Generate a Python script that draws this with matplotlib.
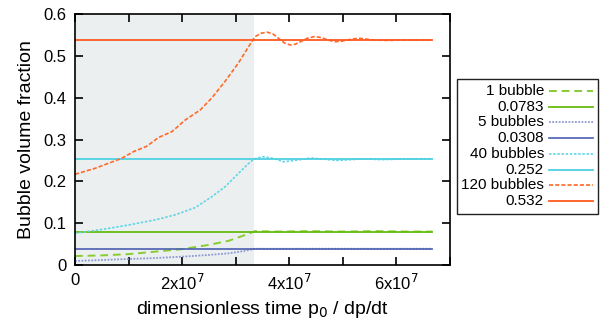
import matplotlib
matplotlib.use("Agg")
import matplotlib.pyplot as plt
from matplotlib.lines import Line2D
from matplotlib.patches import Rectangle
from matplotlib.ticker import MultipleLocator, FuncFormatter

plt.rcParams["font.family"] = ["Liberation Sans", "DejaVu Sans"]

# time axis in units of 1e7
t1 = [0.0, 0.5, 1.0, 1.5, 2.0, 2.49, 2.87, 3.18, 3.36, 3.8, 4.4, 5.0, 5.6, 6.2, 6.67]
v1 = [0.0215, 0.023, 0.026, 0.032, 0.038, 0.048, 0.058, 0.072, 0.081, 0.080, 0.081, 0.080, 0.081, 0.080, 0.080]

t5 = [0.0, 0.5, 1.0, 1.5, 2.0, 2.49, 2.87, 3.18, 3.35, 4.0, 5.0, 6.0, 6.67]
v5 = [0.0096, 0.012, 0.0144, 0.0167, 0.020, 0.024, 0.028, 0.034, 0.039, 0.039, 0.039, 0.039, 0.039]

t40 = [0.0, 0.5, 1.0, 1.5, 1.87, 2.24, 2.55, 2.8, 3.05, 3.24, 3.35, 3.5, 3.7, 3.9, 4.15, 4.4, 4.65, 4.9, 5.15, 5.4, 5.7, 6.0, 6.3, 6.67]
v40 = [0.076, 0.085, 0.0957, 0.108, 0.120, 0.137, 0.163, 0.187, 0.219, 0.243, 0.254, 0.259, 0.255, 0.247, 0.251, 0.256, 0.253, 0.250, 0.252, 0.254, 0.252, 0.253, 0.254, 0.254]

t120 = [0.0, 0.37, 0.62, 0.87, 1.09, 1.34, 1.56, 1.81, 2.06, 2.34, 2.55, 2.8, 3.05, 3.24, 3.36, 3.47, 3.58, 3.69, 3.8, 3.91, 4.02, 4.11, 4.21, 4.33, 4.46, 4.55, 4.64, 4.75, 4.86, 4.97, 5.08, 5.2, 5.33, 5.45, 5.58, 5.83, 6.08, 6.4, 6.67]
v120 = [0.217, 0.231, 0.243, 0.255, 0.271, 0.284, 0.305, 0.319, 0.347, 0.371, 0.399, 0.439, 0.483, 0.522, 0.546, 0.554, 0.557, 0.553, 0.542, 0.531, 0.526, 0.528, 0.534, 0.542, 0.546, 0.545, 0.542, 0.537, 0.534, 0.535, 0.538, 0.541, 0.542, 0.540, 0.538, 0.537, 0.538, 0.538, 0.538]

refs = [0.0797, 0.039, 0.254, 0.538]
ref_labels = ["0.0783", "0.0308", "0.252", "0.532"]
curve_labels = ["1 bubble", "5 bubbles", "40 bubbles", "120 bubbles"]
t_end = 6.67
t_shade = 3.35

sc = 1e7
W, H = 600, 328
fig = plt.figure(figsize=(W / 100, H / 100), dpi=100)
ax = fig.add_axes([0.125, 0.192, 0.625, 0.765])

ax.axvspan(0, t_shade * sc, color="#eceff0", lw=0, zorder=0)

ax.plot([x * sc for x in t1], v1, color="#88cc33", lw=1.4, ls=(0, (4, 2.5)), label=curve_labels[0])
ax.plot([0, t_end * sc], [refs[0]] * 2, color="#66bb11", lw=1.3, label=ref_labels[0])
ax.plot([x * sc for x in t5], v5, color="#8d9ad4", lw=1.3, ls=(0, (1, 0.8)), label=curve_labels[1])
ax.plot([0, t_end * sc], [refs[1]] * 2, color="#4a5fb0", lw=1.2, label=ref_labels[1])
ax.plot([x * sc for x in t40], v40, color="#5fd6e6", lw=1.2, ls=(0, (1.5, 1)), label=curve_labels[2])
ax.plot([0, t_end * sc], [refs[2]] * 2, color="#4fd0e2", lw=1.3, label=ref_labels[2])
ax.plot([x * sc for x in t120], v120, color="#ff6a2a", lw=1.2, ls=(0, (2.5, 1.2)), label=curve_labels[3])
ax.plot([0, t_end * sc], [refs[3]] * 2, color="#ff5a1f", lw=1.3, label=ref_labels[3])

ax.set_xlim(0, 7e7)
ax.set_ylim(0, 0.6)
ax.xaxis.set_major_locator(MultipleLocator(1e7))
ax.yaxis.set_major_locator(MultipleLocator(0.1))


def xfmt(x, pos):
    n = int(round(x / 1e7))
    if n == 0:
        return "0"
    if n % 2:
        return ""
    return r"%dx10$^{7}$" % n


def yfmt(y, pos):
    return "0" if abs(y) < 1e-9 else "%.1f" % y


ax.xaxis.set_major_formatter(FuncFormatter(xfmt))
ax.yaxis.set_major_formatter(FuncFormatter(yfmt))
ax.tick_params(direction="in", top=True, right=True, length=6, width=1.2, labelsize=12, pad=6)
for s in ax.spines.values():
    s.set_linewidth(1.2)

ax.set_xlabel(r"dimensionless time p$_0$ / dp/dt", fontsize=14, labelpad=4)
ax.set_ylabel("Bubble volume fraction", fontsize=14, labelpad=6)

# gnuplot-style key: right-aligned labels, line samples on the right
def fx(px):
    return px / W


def fy(py):
    return 1 - py / H


fig.add_artist(Rectangle((fx(457), fy(214)), fx(598) - fx(457), fy(79) - fy(214),
                         transform=fig.transFigure, fill=False, ec="#222222", lw=1.0))
for i, ln in enumerate(ax.get_lines()):
    yrow = 91 + i * 15.7
    fig.text(fx(544), fy(yrow), ln.get_label(), ha="right", va="center", fontsize=11)
    fig.add_artist(Line2D([fx(549), fx(593)], [fy(yrow), fy(yrow)], transform=fig.transFigure,
                          color=ln.get_color(), lw=ln.get_linewidth(), ls=ln.get_linestyle()))
    fig.artists[-1].set_dashes(ln._unscaled_dash_pattern[1]) if ln._unscaled_dash_pattern[1] else None

fig.savefig("out.png", dpi=100)
